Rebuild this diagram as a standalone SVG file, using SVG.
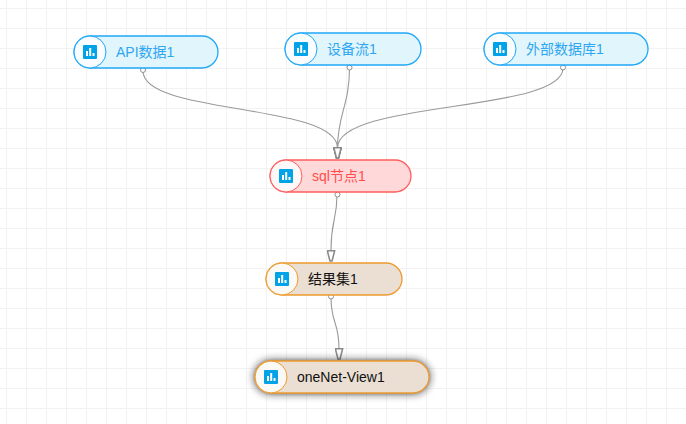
<svg xmlns="http://www.w3.org/2000/svg" width="686" height="424" viewBox="0 0 686 424">
<defs>
<pattern id="grid" x="6" y="8" width="20" height="20" patternUnits="userSpaceOnUse"><path d="M0.5 0V20M0 0.5H20" fill="none" stroke="#f2f2f2" stroke-width="1"/></pattern>
<filter id="glow" x="-15%" y="-50%" width="130%" height="200%"><feGaussianBlur stdDeviation="4"/></filter>
<marker id="arr" markerUnits="userSpaceOnUse" markerWidth="9" markerHeight="12" refX="4" refY="10.500" orient="0" viewBox="0 0 8 11.500"><path d="M0.500 0.700H7.500L5 10.500H3Z" fill="#fff" stroke="#8a8a8a" stroke-width="1.500"/></marker>
<g id="ic"><rect width="14" height="14" rx="1" fill="#00a2e8"/><path d="M3 6h2v5H3zM6.200 3h2v8h-2zM9.500 8h2v3h-2z" fill="#fff"/></g>
</defs>
<style>
text{font:14px "Liberation Sans","Noto Sans CJK SC",sans-serif;dominant-baseline:central}
.c{fill:none;stroke:#9a9a9a;stroke-width:1.100}
.p{fill:#fff;stroke:#8f8f8f;stroke-width:1}
rect.m{stroke-width:1.300}circle.k{stroke-width:1}
.b rect.m{fill:#e1f5fc;stroke:#1fa8f8}.b circle.k{fill:#fff;fill-opacity:.8;stroke:#1fa8f8}.b text{fill:#2fa6f2}
.r rect.m{fill:#ffd9d9;stroke:#ff5c5c}.r circle.k{fill:#fff;fill-opacity:.8;stroke:#ff5c5c}.r text{fill:#ff4d4d}
.o rect.m{fill:#eadfd2;stroke:#ee9a2e}.o circle.k{fill:#fff;fill-opacity:.8;stroke:#ee9a2e}.o text{fill:#111}
</style>
<rect width="686" height="424" fill="#fff"/>
<rect width="686" height="424" fill="url(#grid)"/>
<g id="connectors">
<path class="c" d="M143 71C143 115 337 103 337.500 148L337.500 158" marker-end="url(#arr)"/>
<path class="c" d="M349.500 68C349.500 105 337.500 115 337.500 148L337.500 158" marker-end="url(#arr)"/>
<path class="c" d="M563 68C563 113 337.500 100 337.500 148L337.500 158" marker-end="url(#arr)"/>
<path class="c" d="M337 195C337 220 331 220 331 250L331 261" marker-end="url(#arr)"/>
<path class="c" d="M331 297C331 325 339 320 339 349L339 359" marker-end="url(#arr)"/>
<circle class="p" cx="143" cy="70" r="2.500"/><circle class="p" cx="349.500" cy="67.500" r="2.500"/><circle class="p" cx="563" cy="67.500" r="2.500"/><circle class="p" cx="337.500" cy="194.500" r="2.500"/><circle class="p" cx="331" cy="296.500" r="2.500"/>
</g>
<g id="n1" class="b"><rect class="m" x="74" y="36" width="144" height="32" rx="16"/><circle class="k" cx="90" cy="52" r="16"/><use href="#ic" x="83" y="45"/><text x="116" y="52">API数据1</text></g>
<g id="n2" class="b"><rect class="m" x="285" y="33" width="136" height="32" rx="16"/><circle class="k" cx="301" cy="49" r="16"/><use href="#ic" x="294" y="42"/><text x="327" y="49">设备流1</text></g>
<g id="n3" class="b"><rect class="m" x="484" y="33" width="164" height="32" rx="16"/><circle class="k" cx="500" cy="49" r="16"/><use href="#ic" x="493" y="42"/><text x="526" y="49">外部数据库1</text></g>
<g id="n4" class="r"><rect class="m" x="270" y="160" width="141" height="32" rx="16"/><circle class="k" cx="286" cy="176" r="16"/><use href="#ic" x="279" y="169"/><text x="312" y="176">sql节点1</text></g>
<g id="n5" class="o"><rect class="m" x="266" y="263" width="136" height="32" rx="16"/><circle class="k" cx="282" cy="279" r="16"/><use href="#ic" x="275" y="272"/><text x="308" y="279">结果集1</text></g>
<g id="n6" class="o"><rect x="255" y="361" width="174" height="32" rx="16" fill="#222" filter="url(#glow)"/><rect class="m" x="255" y="361" width="174" height="32" rx="16"/><circle class="k" cx="271" cy="377" r="16"/><use href="#ic" x="264" y="370"/><text x="297" y="377">oneNet-View1</text></g>
</svg>
